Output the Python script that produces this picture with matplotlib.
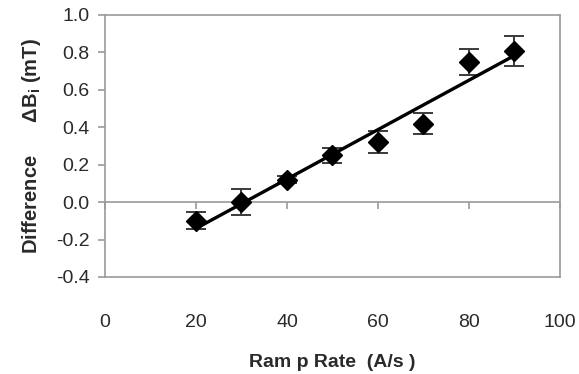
import numpy as np
import matplotlib
matplotlib.use("Agg")
import matplotlib.pyplot as plt

# data
ramp_rate = [20, 30, 40, 50, 60, 70, 80, 90]
delta_b = [-0.10, 0.00, 0.12, 0.25, 0.32, 0.42, 0.75, 0.81]
err = [0.045, 0.07, 0.02, 0.04, 0.06, 0.058, 0.07, 0.08]

x_ticks = [0, 20, 40, 60, 80, 100]
y_ticks = [-0.4, -0.2, 0.0, 0.2, 0.4, 0.6, 0.8, 1.0]

plt.rcParams['font.family'] = ['Liberation Sans', 'DejaVu Sans']

fig = plt.figure(figsize=(5.79, 3.74), dpi=100)
ax = fig.add_axes([0.1813, 0.2594, 0.7857, 0.7005])

grey = '#9a9a9a'

# linear trendline
coef = np.polyfit(ramp_rate, delta_b, 1)
xs = np.array([min(ramp_rate), max(ramp_rate)])
ax.plot(xs, np.polyval(coef, xs), color='black', lw=2.4, zorder=3)

ax.errorbar(ramp_rate, delta_b, yerr=err, fmt='none', ecolor='#3a3a3a',
            elinewidth=1.4, capsize=7, capthick=1.4, zorder=2)
ax.plot(ramp_rate, delta_b, 'D', color='black', markersize=10, zorder=4)

ax.axhline(0, color=grey, lw=1.2, zorder=1)

ax.set_xlim(0, 100)
ax.set_ylim(-0.4, 1.0)
ax.set_xticks(x_ticks)
ax.set_yticks(y_ticks)
ax.set_yticklabels(['%.1f' % v for v in y_ticks])

for s in ax.spines.values():
    s.set_color(grey)
    s.set_linewidth(1.2)

ax.tick_params(axis='y', colors=grey, length=5, width=1.2, labelsize=14,
               labelcolor='#2a2a2a', pad=6)
ax.tick_params(axis='x', length=0, labelsize=14, labelcolor='#2a2a2a', pad=27)

# tick marks sit on the zero line
sec = ax.secondary_xaxis(0.4 / 1.4)
sec.set_xticks(x_ticks)
sec.tick_params(axis='x', colors=grey, length=5, width=1.2, labelbottom=False)
sec.spines['bottom'].set_visible(False)

ax.set_xlabel('Ram p Rate  (A/s )', fontsize=14, fontweight='bold',
              color='#2a2a2a', labelpad=16)
ax.set_ylabel('Difference      \u0394B$_\\mathregular{i}$ (mT)', fontsize=14.5,
              fontweight='bold', color='#2a2a2a', labelpad=9)

fig.savefig('out.png', dpi=100)
